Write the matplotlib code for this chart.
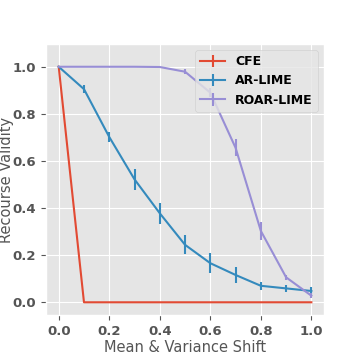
import matplotlib
matplotlib.use("Agg")
import matplotlib.pyplot as plt

plt.style.use("ggplot")

shift = [0.0, 0.1, 0.2, 0.3, 0.4, 0.5, 0.6, 0.7, 0.8, 0.9, 1.0]

cfe = [1.0, 0, 0, 0, 0, 0, 0, 0, 0, 0, 0]
cfe_err = [0, 0, 0, 0, 0, 0, 0, 0, 0, 0, 0]

ar_lime = [1.0, 0.905, 0.702, 0.522, 0.378, 0.244, 0.166, 0.116, 0.07, 0.059, 0.048]
ar_lime_err = [0, 0.018, 0.023, 0.044, 0.044, 0.04, 0.042, 0.035, 0.016, 0.015, 0.017]

roar_lime = [1.0, 1.0, 1.0, 1.0, 0.999, 0.979, 0.89, 0.656, 0.303, 0.106, 0.028]
roar_lime_err = [0, 0, 0, 0, 0, 0.01, 0.02, 0.037, 0.037, 0.011, 0.01]

fig = plt.figure(figsize=(3.6, 3.6), dpi=100)
ax = fig.add_axes([0.128, 0.125, 0.772, 0.753])

ax.errorbar(shift, cfe, yerr=cfe_err, label="CFE")
ax.errorbar(shift, ar_lime, yerr=ar_lime_err, label="AR-LIME")
ax.errorbar(shift, roar_lime, yerr=roar_lime_err, label="ROAR-LIME")

ax.set_ylim(-0.054, 1.097)
ax.set_xlabel("Mean & Variance Shift", fontsize=10.5, labelpad=2)
ax.set_ylabel("Recourse Validity", fontsize=10.5)
ax.yaxis.set_label_coords(-0.114, 0.5)
ax.set_xticks([0.0, 0.2, 0.4, 0.6, 0.8, 1.0])
ax.set_yticks([0.0, 0.2, 0.4, 0.6, 0.8, 1.0])
for lab in ax.get_xticklabels() + ax.get_yticklabels():
    lab.set_fontweight("bold")
    lab.set_fontsize(9.5)
ax.legend(loc="upper right", prop={"weight": "bold", "size": 9})

fig.savefig("out.png", dpi=100)
